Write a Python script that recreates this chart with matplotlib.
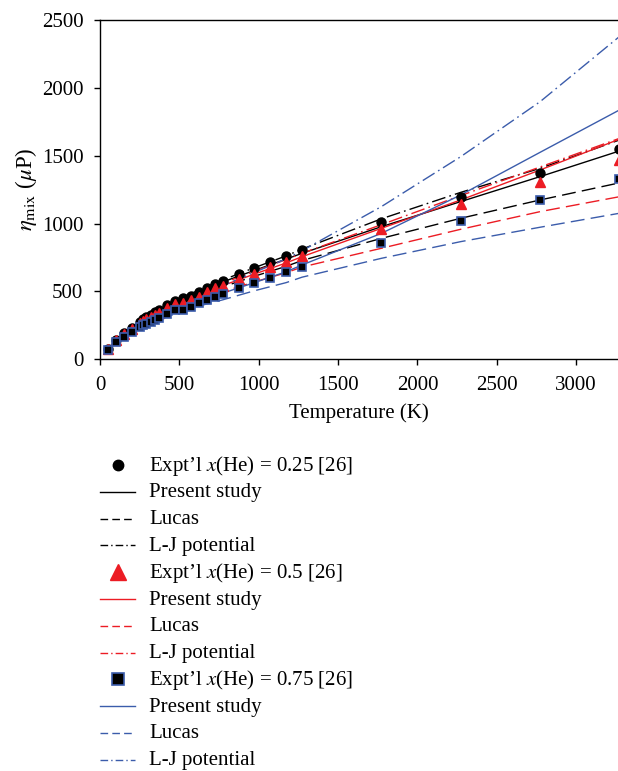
import matplotlib
matplotlib.use("Agg")
import matplotlib.pyplot as plt
from matplotlib.lines import Line2D

plt.rcParams['font.family'] = 'serif'
plt.rcParams['font.serif'] = ['Liberation Serif', 'DejaVu Serif']
plt.rcParams['mathtext.fontset'] = 'stix'

# experimental points (K, micropoise)
T_exp = [50, 100, 150, 200, 250, 273, 293, 323, 348, 373, 423, 473, 523, 573,
         623, 673, 723, 773, 873, 973, 1073, 1173, 1273, 1773, 2273, 2773, 3273]
exp_025 = [78, 145, 192, 230, 277, 295, 310, 330, 346, 360, 400, 430, 448, 468,
           494, 528, 553, 579, 626, 670, 719, 763, 808, 1013, 1198, 1375, 1547]
exp_050 = [76, 140, 185, 222, 265, 280, 295, 313, 328, 343, 378, 408, 418, 436,
           462, 494, 523, 542, 590, 629, 678, 719, 760, 958, 1141, 1309, 1468]
exp_075 = [72, 125, 165, 198, 235, 250, 262, 278, 292, 305, 335, 360, 363, 388,
           413, 437, 461, 479, 523, 560, 601, 641, 679, 855, 1020, 1174, 1325]

# calculated curves
T_calc = [50, 150, 273, 373, 473, 573, 673, 773, 973, 1173, 1273, 1773, 2273, 2773, 3273]
present_025 = [78, 188, 290, 355, 420, 472, 520, 570, 655, 738, 781, 977, 1162, 1346, 1535]
lucas_025 = [76, 180, 275, 335, 395, 445, 490, 533, 612, 685, 728, 891, 1039, 1174, 1300]
lj_025 = [80, 192, 296, 362, 430, 484, 534, 584, 675, 762, 812, 1035, 1230, 1407, 1616]
present_050 = [76, 183, 280, 342, 406, 455, 500, 543, 628, 710, 756, 965, 1174, 1395, 1622]
lucas_050 = [74, 175, 264, 320, 375, 420, 460, 498, 570, 638, 680, 818, 958, 1088, 1198]
lj_050 = [77, 186, 285, 350, 416, 468, 515, 560, 648, 735, 781, 992, 1206, 1417, 1628]
present_075 = [72, 168, 250, 305, 360, 405, 447, 487, 565, 645, 695, 928, 1211, 1525, 1837]
lucas_075 = [70, 160, 240, 290, 335, 375, 408, 438, 505, 565, 605, 744, 867, 973, 1076]
lj_075 = [75, 176, 268, 328, 390, 443, 493, 543, 640, 740, 800, 1125, 1493, 1898, 2378]

fractions = ['0.25', '0.5', '0.75']

BLACK = '#000000'
RED = '#ec1c24'
BLUE = '#3b5cab'

DASH = (10, 4.5)
DASHDOT = (10, 3, 1.2, 3)
LEG_DASH = (5.5, 3)
LEG_DASHDOT = (5.5, 2.2, 1, 2.2)

W, H = 618, 771
fig = plt.figure(figsize=(W / 100, H / 100), dpi=100)
ax = fig.add_axes([100 / W, 411.7 / H, 1 - 100 / W, 339.3 / H])

groups = [
    (BLACK, present_025, lucas_025, lj_025),
    (RED, present_050, lucas_050, lj_050),
    (BLUE, present_075, lucas_075, lj_075),
]
for color, pres, luc, lj in groups:
    ax.plot(T_calc, luc, color=color, lw=1.0, dashes=DASH)
    ax.plot(T_calc, lj, color=color, lw=1.0, dashes=DASHDOT)
    ax.plot(T_calc, pres, color=color, lw=1.0)

ax.plot(T_exp, exp_025, 'o', color=BLACK, ms=6.5, zorder=5)
ax.plot(T_exp, exp_050, '^', color=RED, ms=7.5, zorder=5)
ax.plot(T_exp, exp_075, 's', mfc=BLACK, mec=BLUE, mew=1.2, ms=6, zorder=5)

ax.set_xlim(0, 3264)
ax.set_ylim(0, 2500)
ax.set_xticks([0, 500, 1000, 1500, 2000, 2500, 3000])
ax.set_yticks([0, 500, 1000, 1500, 2000, 2500])
ax.tick_params(direction='out', length=4, width=1, labelsize=15, top=False, right=False)
ax.tick_params(axis='y', pad=8)
ax.tick_params(axis='x', pad=8)
ax.spines['right'].set_visible(False)
for s in ['left', 'bottom', 'top']:
    ax.spines[s].set_linewidth(1.0)
ax.set_xlabel('Temperature (K)', fontsize=15, labelpad=6)
ax.set_ylabel(r'$\eta_{\rm mix}$ ($\mu$P)', fontsize=16.5, labelpad=2)

# legend below the axes, drawn row by row
def fx(px):
    return px / W

def fy(py):
    return 1 - py / H

row = 0
for (color, _, _, _), frac in zip(groups, fractions):
    y0 = 465 + row * 26.8
    if color == BLUE:
        h = Line2D([fx(118)], [fy(y0)], ls='none', marker='s', mfc=BLACK, mec=BLUE, mew=1.2, ms=8)
    elif color == RED:
        h = Line2D([fx(118)], [fy(y0)], ls='none', marker='^', color=RED, ms=11)
    else:
        h = Line2D([fx(118)], [fy(y0)], ls='none', marker='o', color=BLACK, ms=7.5)
    fig.add_artist(h)
    fig.text(fx(149), fy(y0 + 5.5), u"Expt\u2019l $x$(He) = " + frac + " [26]",
             fontsize=15, va='baseline', ha='left')
    row += 1
    for name, dashes in [('Present study', None), ('Lucas', LEG_DASH), ('L-J potential', LEG_DASHDOT)]:
        y0 = 465 + row * 26.8
        ln = Line2D([fx(100), fx(135)], [fy(y0), fy(y0)], color=color, lw=1.0)
        if dashes is not None:
            ln.set_dashes(dashes)
        fig.add_artist(ln)
        fig.text(fx(149), fy(y0 + 5.5), name, fontsize=15, va='baseline', ha='left')
        row += 1

fig.savefig('out.png', dpi=100)
